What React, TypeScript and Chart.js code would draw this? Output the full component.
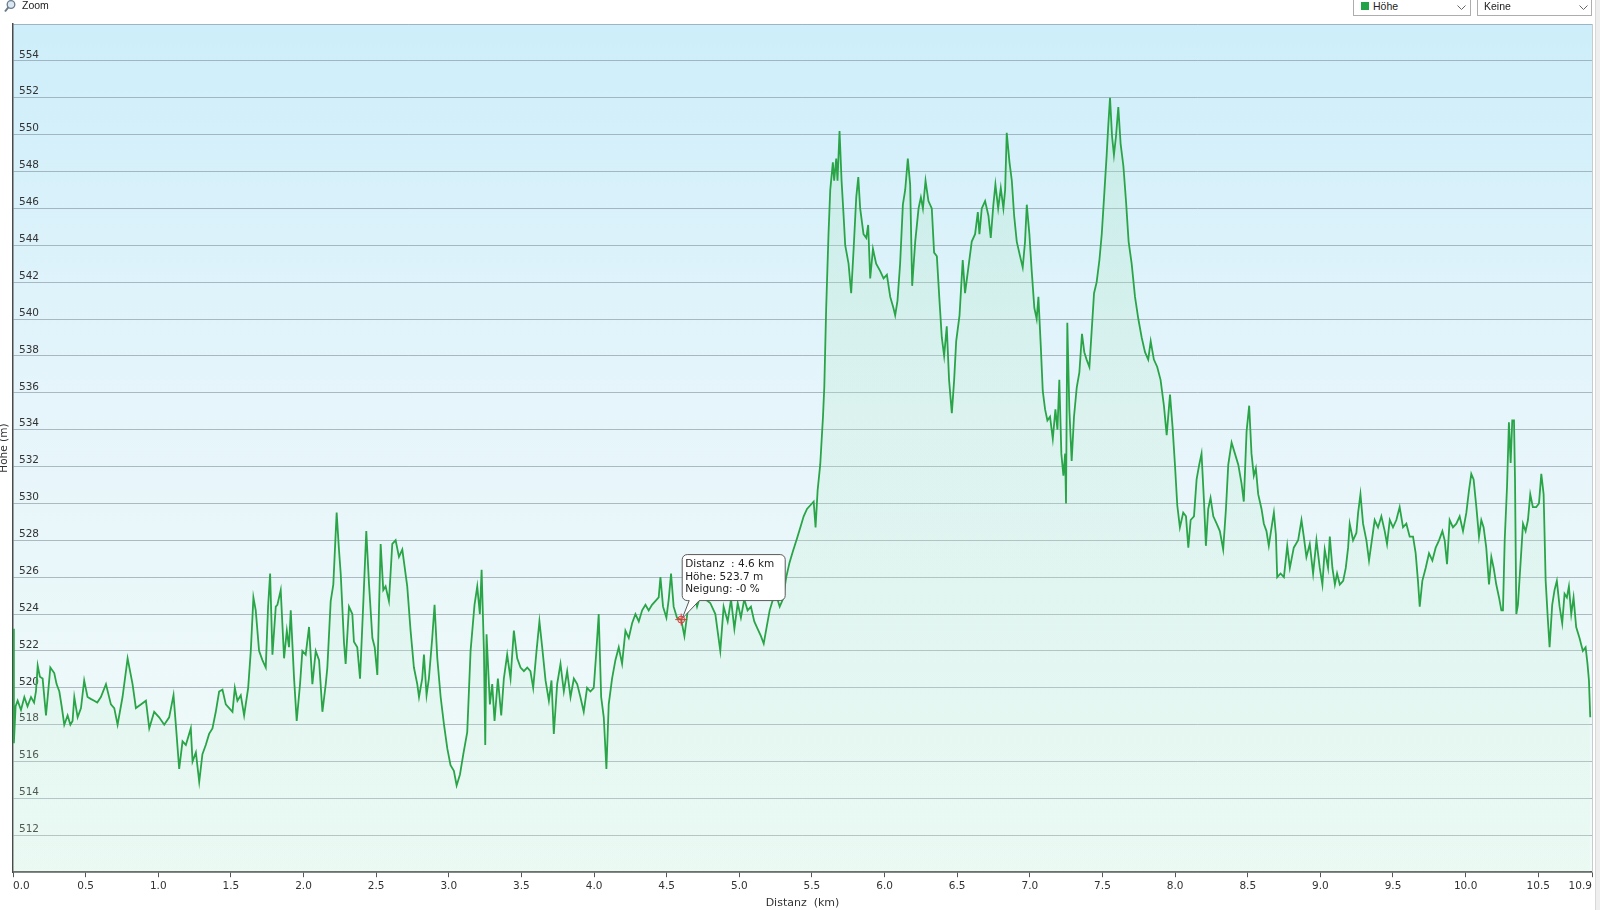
import React, { useEffect, useRef } from "react";
import { Chart, registerables } from "chart.js";

Chart.register(...registerables);

// ---- Data ----
const distanceKm: number[] = [
  0.000, 0.006, 0.018, 0.032, 0.055, 0.078, 0.100, 0.124, 0.145, 0.158, 0.170, 0.185, 0.204, 0.227, 0.240, 0.257,
  0.284, 0.300, 0.319, 0.335, 0.353, 0.376, 0.395, 0.410, 0.422, 0.445, 0.468, 0.490, 0.513, 0.535, 0.559, 0.580,
  0.605, 0.640, 0.674, 0.697, 0.720, 0.754, 0.789, 0.823, 0.846, 0.880, 0.915, 0.938, 0.972, 1.006, 1.041, 1.075,
  1.105, 1.121, 1.144, 1.167, 1.190, 1.224, 1.236, 1.259, 1.282, 1.304, 1.327, 1.350, 1.373, 1.396, 1.419, 1.442,
  1.465, 1.488, 1.511, 1.527, 1.545, 1.568, 1.591, 1.619, 1.637, 1.655, 1.671, 1.694, 1.717, 1.740, 1.756, 1.770,
  1.786, 1.809, 1.820, 1.843, 1.866, 1.885, 1.900, 1.912, 1.935, 1.953, 1.976, 1.992, 2.015, 2.038, 2.061, 2.084,
  2.107, 2.130, 2.153, 2.164, 2.187, 2.205, 2.228, 2.244, 2.256, 2.279, 2.290, 2.313, 2.336, 2.347, 2.370, 2.389,
  2.412, 2.432, 2.451, 2.474, 2.490, 2.508, 2.531, 2.549, 2.565, 2.588, 2.611, 2.634, 2.657, 2.680, 2.714, 2.737,
  2.760, 2.783, 2.795, 2.817, 2.829, 2.847, 2.863, 2.886, 2.902, 2.921, 2.944, 2.967, 2.990, 3.012, 3.035, 3.054,
  3.077, 3.100, 3.127, 3.150, 3.177, 3.196, 3.214, 3.226, 3.242, 3.251, 3.260, 3.283, 3.299, 3.315, 3.338, 3.361,
  3.379, 3.402, 3.425, 3.448, 3.471, 3.494, 3.517, 3.540, 3.562, 3.581, 3.604, 3.624, 3.643, 3.666, 3.689, 3.707,
  3.723, 3.746, 3.769, 3.792, 3.815, 3.838, 3.861, 3.884, 3.906, 3.929, 3.952, 3.975, 3.998, 4.016, 4.032, 4.049,
  4.067, 4.085, 4.101, 4.124, 4.147, 4.170, 4.193, 4.216, 4.239, 4.262, 4.285, 4.308, 4.331, 4.354, 4.376, 4.399,
  4.422, 4.445, 4.457, 4.475, 4.498, 4.514, 4.530, 4.548, 4.571, 4.600, 4.622, 4.645, 4.663, 4.686, 4.709, 4.732,
  4.766, 4.800, 4.835, 4.869, 4.892, 4.920, 4.943, 4.966, 4.989, 5.011, 5.034, 5.057, 5.080, 5.103, 5.126, 5.149,
  5.168, 5.186, 5.209, 5.232, 5.255, 5.278, 5.300, 5.323, 5.346, 5.369, 5.397, 5.420, 5.443, 5.466, 5.489, 5.512,
  5.525, 5.539, 5.557, 5.576, 5.585, 5.598, 5.614, 5.626, 5.644, 5.653, 5.667, 5.676, 5.690, 5.704, 5.718, 5.729,
  5.752, 5.770, 5.787, 5.805, 5.819, 5.832, 5.855, 5.874, 5.887, 5.901, 5.920, 5.942, 5.970, 5.993, 6.016, 6.039,
  6.061, 6.073, 6.089, 6.107, 6.126, 6.142, 6.160, 6.176, 6.190, 6.211, 6.234, 6.250, 6.264, 6.282, 6.302, 6.325,
  6.341, 6.360, 6.378, 6.394, 6.410, 6.428, 6.444, 6.463, 6.479, 6.493, 6.516, 6.538, 6.554, 6.577, 6.600, 6.623,
  6.642, 6.653, 6.669, 6.692, 6.715, 6.731, 6.749, 6.763, 6.782, 6.800, 6.818, 6.830, 6.841, 6.860, 6.876, 6.892,
  6.910, 6.933, 6.951, 6.967, 6.979, 6.997, 7.013, 7.031, 7.047, 7.059, 7.075, 7.089, 7.105, 7.121, 7.139, 7.158,
  7.176, 7.190, 7.203, 7.217, 7.231, 7.243, 7.249, 7.258, 7.272, 7.288, 7.304, 7.323, 7.341, 7.359, 7.375, 7.391,
  7.410, 7.426, 7.442, 7.460, 7.479, 7.495, 7.511, 7.529, 7.540, 7.552, 7.566, 7.579, 7.593, 7.609, 7.625, 7.644,
  7.662, 7.680, 7.701, 7.724, 7.747, 7.770, 7.793, 7.815, 7.832, 7.854, 7.877, 7.900, 7.923, 7.942, 7.965, 7.983,
  7.999, 8.015, 8.033, 8.056, 8.075, 8.091, 8.107, 8.130, 8.148, 8.166, 8.182, 8.199, 8.212, 8.228, 8.244, 8.263,
  8.286, 8.308, 8.331, 8.350, 8.366, 8.389, 8.412, 8.435, 8.457, 8.473, 8.492, 8.510, 8.526, 8.542, 8.556, 8.572,
  8.595, 8.611, 8.629, 8.645, 8.664, 8.680, 8.694, 8.703, 8.726, 8.749, 8.772, 8.790, 8.817, 8.847, 8.870, 8.886,
  8.904, 8.927, 8.950, 8.973, 8.996, 9.014, 9.030, 9.053, 9.065, 9.083, 9.100, 9.115, 9.134, 9.157, 9.175, 9.191,
  9.202, 9.225, 9.248, 9.260, 9.276, 9.294, 9.317, 9.335, 9.358, 9.374, 9.397, 9.420, 9.443, 9.459, 9.478, 9.500,
  9.523, 9.546, 9.569, 9.592, 9.615, 9.638, 9.656, 9.672, 9.684, 9.702, 9.725, 9.748, 9.771, 9.794, 9.817, 9.840,
  9.856, 9.872, 9.890, 9.913, 9.936, 9.959, 9.982, 10.005, 10.023, 10.039, 10.055, 10.074, 10.092, 10.108, 10.124, 10.142,
  10.161, 10.177, 10.193, 10.211, 10.230, 10.246, 10.257, 10.269, 10.285, 10.298, 10.310, 10.321, 10.333, 10.340, 10.349, 10.360,
  10.376, 10.395, 10.413, 10.429, 10.445, 10.463, 10.486, 10.505, 10.521, 10.537, 10.551, 10.567, 10.578, 10.596, 10.612, 10.628,
  10.647, 10.665, 10.681, 10.697, 10.711, 10.727, 10.743, 10.761, 10.784, 10.807, 10.826, 10.839, 10.849, 10.858,
];

const elevationM: number[] = [
  523.2, 517.0, 519.0, 519.3, 518.8, 519.5, 519.0, 519.5, 519.2, 519.8, 521.2, 520.6, 520.5, 518.5, 519.6, 521.1,
  520.8, 520.2, 519.8, 519.0, 518.0, 518.5, 518.0, 518.2, 519.5, 518.4, 518.9, 520.4, 519.5, 519.4, 519.3, 519.2,
  519.5, 520.2, 519.1, 518.9, 518.0, 519.5, 521.6, 520.2, 518.9, 519.1, 519.3, 517.8, 518.7, 518.4, 518.0, 518.4,
  519.6, 518.0, 515.6, 517.1, 516.9, 517.8, 516.0, 516.5, 514.9, 516.4, 516.9, 517.5, 517.8, 518.7, 519.8, 519.9,
  519.1, 518.9, 518.7, 520.0, 519.3, 519.6, 518.5, 520.0, 522.0, 524.9, 524.2, 522.0, 521.5, 521.1, 524.4, 526.2,
  521.8, 524.4, 524.5, 525.3, 521.6, 523.1, 522.2, 524.2, 520.5, 518.2, 520.2, 522.0, 521.8, 523.3, 520.2, 522.0,
  521.5, 518.7, 520.2, 521.1, 524.7, 525.6, 529.5, 527.5, 526.2, 522.4, 521.3, 524.4, 524.0, 522.5, 522.2, 520.5,
  524.7, 528.5, 525.6, 522.7, 522.2, 520.7, 527.8, 525.3, 525.5, 524.7, 527.8, 528.0, 527.1, 527.5, 525.5, 523.1,
  521.1, 520.2, 519.5, 520.5, 521.8, 519.6, 520.5, 522.7, 524.5, 521.6, 519.5, 518.0, 516.7, 515.8, 515.5, 514.7,
  515.3, 516.4, 517.6, 522.0, 524.5, 525.5, 524.0, 526.4, 522.0, 516.9, 522.9, 519.1, 520.2, 518.2, 520.5, 518.5,
  520.5, 521.8, 520.5, 523.1, 521.6, 521.1, 520.9, 521.1, 520.9, 520.0, 522.0, 523.6, 522.2, 520.4, 519.3, 520.4,
  517.5, 520.2, 521.3, 519.8, 520.9, 519.5, 520.5, 520.2, 519.5, 518.7, 520.0, 519.8, 520.0, 522.0, 524.0, 519.5,
  518.4, 515.6, 519.1, 520.5, 521.5, 522.2, 521.3, 523.1, 522.7, 523.5, 524.0, 523.6, 524.2, 524.5, 524.2, 524.5,
  524.7, 524.9, 526.0, 524.4, 523.8, 524.8, 526.2, 524.4, 523.8, 523.7, 522.8, 524.2, 524.8, 525.2, 524.4, 525.0,
  524.8, 524.6, 524.0, 522.0, 524.4, 523.6, 524.8, 523.2, 524.6, 523.8, 524.8, 524.2, 524.4, 523.6, 523.2, 522.8,
  522.4, 523.2, 524.2, 524.8, 525.0, 524.4, 524.8, 526.0, 526.8, 527.4, 528.1, 528.7, 529.3, 529.7, 529.9, 530.1,
  528.7, 530.7, 532.1, 534.7, 536.3, 540.6, 544.6, 547.0, 548.5, 547.5, 548.7, 547.5, 550.2, 547.5, 545.6, 544.0,
  543.0, 541.4, 543.8, 546.6, 547.7, 546.0, 544.6, 544.4, 545.1, 542.2, 543.8, 543.0, 542.6, 542.2, 542.4, 541.2,
  540.6, 540.2, 541.0, 543.0, 546.2, 547.0, 548.7, 547.3, 541.8, 544.2, 546.0, 546.6, 546.0, 547.5, 546.4, 546.0,
  543.6, 543.4, 541.0, 539.0, 538.0, 539.6, 536.7, 534.9, 536.7, 538.8, 540.2, 543.2, 541.4, 542.8, 544.2, 544.6,
  545.8, 544.6, 546.0, 546.4, 545.6, 544.4, 546.2, 547.3, 546.0, 547.1, 546.0, 547.0, 550.1, 548.5, 547.5, 545.6,
  544.2, 543.4, 542.8, 544.2, 546.2, 544.6, 542.6, 540.6, 540.0, 541.2, 538.6, 536.1, 535.1, 534.5, 534.7, 533.5,
  535.1, 534.0, 536.7, 532.7, 531.5, 532.7, 530.0, 539.8, 535.1, 532.3, 534.7, 536.3, 537.1, 539.2, 538.2, 537.8,
  537.4, 539.4, 541.4, 542.0, 543.2, 544.6, 546.6, 548.9, 550.5, 552.0, 549.9, 548.9, 549.9, 551.5, 549.5, 548.3,
  546.4, 544.2, 543.0, 541.2, 540.0, 539.0, 538.2, 537.8, 538.8, 537.8, 537.4, 536.7, 535.3, 533.7, 535.9, 534.1,
  532.1, 529.9, 528.7, 529.5, 529.3, 527.6, 529.1, 529.3, 531.3, 532.1, 532.7, 530.1, 527.7, 529.7, 530.3, 529.3,
  528.9, 528.5, 527.5, 529.7, 532.1, 533.3, 532.7, 532.1, 531.1, 530.1, 533.9, 535.3, 532.7, 531.5, 531.9, 530.5,
  529.7, 528.9, 528.5, 527.7, 528.7, 529.5, 528.3, 526.0, 526.2, 526.0, 527.7, 526.5, 527.6, 528.0, 529.1, 528.2,
  527.1, 527.8, 526.2, 528.0, 526.5, 525.6, 527.5, 526.5, 528.2, 526.5, 525.6, 526.2, 525.6, 525.8, 526.5, 527.6,
  528.9, 528.0, 528.4, 529.5, 530.5, 528.9, 528.0, 526.9, 528.2, 529.1, 528.7, 529.3, 528.5, 527.8, 529.1, 528.7,
  529.1, 529.8, 528.7, 528.9, 528.2, 528.2, 527.3, 525.8, 524.4, 525.8, 526.5, 527.3, 526.9, 527.6, 528.0, 528.5,
  528.0, 526.7, 529.1, 528.7, 528.9, 529.3, 528.5, 529.5, 530.7, 531.6, 531.3, 529.8, 528.2, 529.1, 528.7, 527.6,
  525.6, 527.1, 526.5, 525.6, 524.9, 524.2, 524.2, 528.0, 530.9, 534.4, 532.2, 534.5, 534.5, 531.3, 524.0, 524.5,
  526.5, 528.9, 528.5, 529.1, 530.5, 529.8, 529.8, 530.0, 531.6, 530.5, 525.8, 523.6, 522.2, 524.5, 525.3, 525.8,
  524.4, 523.5, 525.1, 524.9, 525.5, 524.0, 524.9, 523.3, 522.7, 522.0, 522.2, 521.3, 520.4, 518.4,
];

const xTickValues: number[] = [0, 0.5, 1, 1.5, 2, 2.5, 3, 3.5, 4, 4.5, 5, 5.5, 6, 6.5, 7, 7.5, 8, 8.5, 9, 9.5, 10, 10.5, 10.87];
const xMax = 10.87;
const yMin = 510;
const yMax = 556;
const yStep = 2;
const hiddenYLabels: number[] = [510, 556];

const xAxisTitle = "Distanz  (km)";
const yAxisTitle = "Höhe (m)";
const tooltipKm = 4.6;
const tooltipElevation = 523.7;
const tooltipLines: string[] = ["Distanz  : 4.6 km", "Höhe: 523.7 m", "Neigung: -0 %"];
const seriesName = "Höhe";
const secondSelect = "Keine";
const zoomLabel = "Zoom";

const FONT = "'DejaVu Sans', Verdana, sans-serif";

const decorPlugin = {
  id: "decor",
  beforeDraw(chart: any) {
    const { ctx, chartArea } = chart;
    if (!chartArea) return;
    ctx.save();
    ctx.fillStyle = "#ffffff";
    ctx.fillRect(0, 0, chart.width, chart.height);
    const g = ctx.createLinearGradient(0, chartArea.top, 0, chartArea.bottom);
    g.addColorStop(0, "#cdeefa");
    g.addColorStop(0.45, "#e6f5fb");
    g.addColorStop(1, "#f1fbf8");
    ctx.fillStyle = g;
    ctx.fillRect(chartArea.left, chartArea.top, chartArea.right - chartArea.left, chartArea.bottom - chartArea.top);
    ctx.restore();
  },
  afterDraw(chart: any) {
    const { ctx, chartArea, scales } = chart;
    if (!chartArea) return;
    ctx.save();
    // right border
    ctx.strokeStyle = "#c4ccd0";
    ctx.lineWidth = 1;
    ctx.beginPath();
    ctx.moveTo(chartArea.right + 0.5, chartArea.top);
    ctx.lineTo(chartArea.right + 0.5, chartArea.bottom);
    ctx.stroke();

    // y axis title (partly cut at the left edge)
    ctx.save();
    ctx.translate(7, (chartArea.top + chartArea.bottom) / 2);
    ctx.rotate(-Math.PI / 2);
    ctx.font = `10.5px ${FONT}`;
    ctx.fillStyle = "#333";
    ctx.textAlign = "center";
    ctx.textBaseline = "alphabetic";
    ctx.fillText(yAxisTitle, 0, 0);
    ctx.restore();

    // tooltip
    const px = scales.x.getPixelForValue(tooltipKm);
    const py = scales.y.getPixelForValue(tooltipElevation);
    const bx = px + 1;
    const by = py - 65;
    const bw = 103;
    const bh = 46;
    const r = 5;
    ctx.beginPath();
    ctx.moveTo(bx + r, by);
    ctx.lineTo(bx + bw - r, by);
    ctx.arcTo(bx + bw, by, bx + bw, by + r, r);
    ctx.lineTo(bx + bw, by + bh - r);
    ctx.arcTo(bx + bw, by + bh, bx + bw - r, by + bh, r);
    ctx.lineTo(px + 18, by + bh);
    ctx.lineTo(px + 1, py - 1);
    ctx.lineTo(px + 8, by + bh);
    ctx.lineTo(bx + r, by + bh);
    ctx.arcTo(bx, by + bh, bx, by + bh - r, r);
    ctx.lineTo(bx, by + r);
    ctx.arcTo(bx, by, bx + r, by, r);
    ctx.closePath();
    ctx.fillStyle = "#ffffff";
    ctx.fill();
    ctx.strokeStyle = "#5a5a5a";
    ctx.lineWidth = 1;
    ctx.stroke();

    ctx.font = `10.5px ${FONT}`;
    ctx.fillStyle = "#222";
    ctx.textAlign = "left";
    ctx.textBaseline = "middle";
    tooltipLines.forEach((t, i) => ctx.fillText(t, bx + 3, by + 10 + i * 12.5));

    // marker
    ctx.strokeStyle = "rgba(220,50,50,0.9)";
    ctx.fillStyle = "rgba(240,120,120,0.35)";
    ctx.lineWidth = 1;
    ctx.beginPath();
    ctx.arc(px, py, 3.5, 0, Math.PI * 2);
    ctx.fill();
    ctx.stroke();
    ctx.beginPath();
    ctx.moveTo(px - 6, py);
    ctx.lineTo(px + 6, py);
    ctx.moveTo(px, py - 6);
    ctx.lineTo(px, py + 6);
    ctx.stroke();
    ctx.restore();
  },
};

function ElevationChart() {
  const canvasRef = useRef<HTMLCanvasElement | null>(null);

  useEffect(() => {
    const canvas = canvasRef.current;
    if (!canvas) return;
    const points = distanceKm.map((d, i) => ({ x: d, y: elevationM[i] }));
    const chart = new Chart(canvas, {
      type: "line",
      data: {
        datasets: [
          {
            label: seriesName,
            data: points,
            borderColor: "#29a547",
            borderWidth: 1.8,
            pointRadius: 0,
            tension: 0,
            fill: "start",
            backgroundColor: (c: any) => {
              const area = c.chart.chartArea;
              if (!area) return "rgba(180,230,195,0.25)";
              const g = c.chart.ctx.createLinearGradient(0, area.top, 0, area.bottom);
              g.addColorStop(0, "rgba(170,228,190,0.30)");
              g.addColorStop(1, "rgba(205,242,218,0.18)");
              return g;
            },
          },
        ],
      },
      options: {
        animation: false,
        responsive: false,
        devicePixelRatio: 1,
        layout: { padding: { left: 1, right: 8, top: 24, bottom: 0 } },
        plugins: { legend: { display: false }, tooltip: { enabled: false } },
        scales: {
          x: {
            type: "linear",
            min: 0,
            max: xMax,
            afterBuildTicks: (axis: any) => {
              axis.ticks = xTickValues.map((v) => ({ value: v }));
            },
            ticks: {
              align: "inner",
              autoSkip: false,
              maxRotation: 0,
              padding: 3,
              color: "#333",
              font: { family: FONT, size: 10.5 },
              callback: (v: any) => Number(v).toFixed(1),
            },
            grid: { drawOnChartArea: false, drawTicks: true, tickLength: 5, color: "#555" },
            border: { color: "#555", width: 1.5 },
            title: {
              display: true,
              text: xAxisTitle,
              color: "#333",
              font: { family: FONT, size: 11 },
              padding: { top: 1, bottom: 0 },
            },
          },
          y: {
            type: "linear",
            min: yMin,
            max: yMax,
            ticks: {
              stepSize: yStep,
              mirror: true,
              padding: 6,
              labelOffset: -6,
              color: "#333",
              font: { family: FONT, size: 10.5 },
              callback: (v: any) => (hiddenYLabels.includes(Number(v)) ? "" : String(v)),
            },
            grid: { color: "rgba(120,135,145,0.55)", lineWidth: 1, drawTicks: false },
            border: { color: "#4a4a4a", width: 1.5 },
          },
        },
      },
      plugins: [decorPlugin],
    } as any);
    return () => chart.destroy();
  }, []);

  return <canvas ref={canvasRef} width={1600} height={910} style={{ display: "block", position: "absolute", left: 0, top: 0 }} />;
}

function Chevron({ left }: { left: number }) {
  return (
    <svg width={9} height={6} style={{ position: "absolute", left, top: 3 }}>
      <polyline points="0.5,0.5 4.5,4.5 8.5,0.5" fill="none" stroke="#666" strokeWidth={1} />
    </svg>
  );
}

export default function App() {
  const uiFont = "'Liberation Sans', Arial, sans-serif";
  return (
    <div style={{ position: "absolute", left: 0, top: 0, width: 1600, height: 910, background: "#fff", overflow: "hidden" }}>
      <ElevationChart />
      {/* toolbar: Zoom */}
      <svg width={14} height={13} style={{ position: "absolute", left: 4, top: 0 }}>
        <circle cx={7} cy={4.5} r={3.8} fill="#dbe7f2" stroke="#6a7c8c" strokeWidth={1.3} />
        <line x1={4.3} y1={7.3} x2={1} y2={11.5} stroke="#6a7c8c" strokeWidth={2} />
      </svg>
      <div style={{ position: "absolute", left: 22, top: -1, font: `10.5px ${uiFont}`, color: "#222", lineHeight: "13px" }}>{zoomLabel}</div>
      {/* dropdown 1 */}
      <div style={{ position: "absolute", left: 1353, top: -5, width: 116, height: 19, border: "1px solid #adadad", background: "#fff" }}>
        <div style={{ position: "absolute", left: 7, top: 6, width: 8, height: 8, background: "#22a348" }} />
        <div style={{ position: "absolute", left: 19, top: 4, font: `10.5px ${uiFont}`, color: "#222", lineHeight: "12px" }}>{seriesName}</div>
        <div style={{ position: "absolute", left: 103, top: 6 }}>
          <Chevron left={0} />
        </div>
      </div>
      {/* dropdown 2 */}
      <div style={{ position: "absolute", left: 1477, top: -5, width: 113, height: 19, border: "1px solid #adadad", background: "#fff" }}>
        <div style={{ position: "absolute", left: 6, top: 4, font: `10.5px ${uiFont}`, color: "#222", lineHeight: "12px" }}>{secondSelect}</div>
        <div style={{ position: "absolute", left: 101, top: 6 }}>
          <Chevron left={0} />
        </div>
      </div>
      {/* right edge strip */}
      <div style={{ position: "absolute", left: 1595, top: 0, width: 5, height: 910, background: "#eeeeee", borderLeft: "1px solid #d8d8d8" }} />
    </div>
  );
}
